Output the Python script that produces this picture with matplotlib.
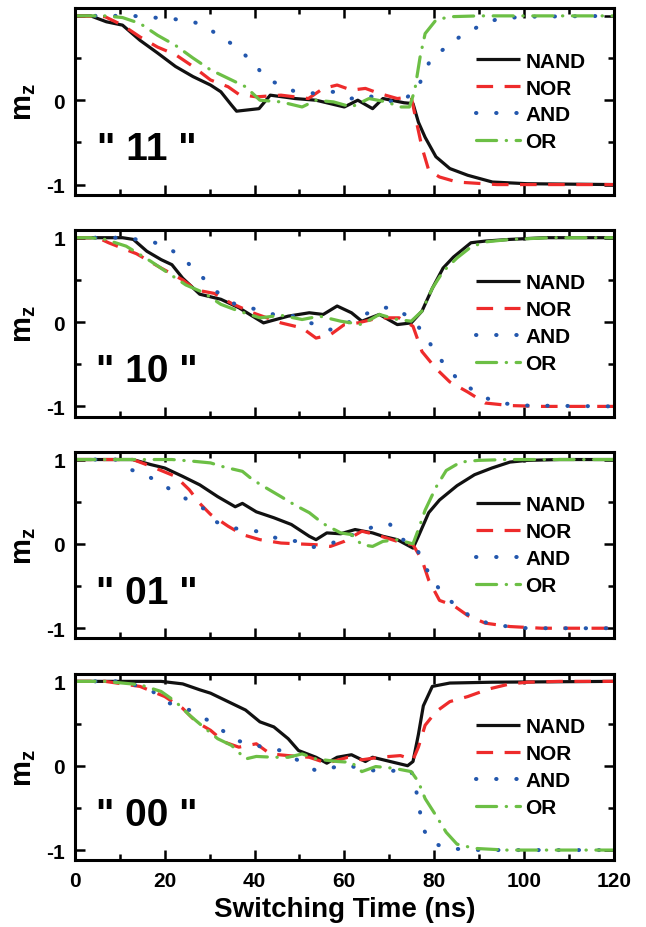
import matplotlib
matplotlib.use("Agg")
import matplotlib.pyplot as plt
from matplotlib.ticker import MultipleLocator, FixedLocator

plt.rcParams['font.family'] = ['Liberation Sans', 'DejaVu Sans']
plt.rcParams['font.weight'] = 'bold'
plt.rcParams['mathtext.fontset'] = 'custom'
plt.rcParams['mathtext.bf'] = 'Liberation Sans:bold'
plt.rcParams['mathtext.rm'] = 'Liberation Sans:bold'

series_names = ["NAND", "NOR", "AND", "OR"]
panel_labels = ['" 11 "', '" 10 "', '" 01 "', '" 00 "']
x_ticks = [0, 20, 40, 60, 80, 100, 120]

# ---- panel "11" ----
p11_nand_x = [0, 3.5, 7, 10.6, 14.5, 18.4, 22.4, 26.3, 30.2, 32.5, 34.9, 36, 41, 43.5, 49, 53.7, 60, 63, 66.3, 68.6, 73.3, 75.3, 76.5, 78, 80.4, 83.5, 87.5, 93, 100.8, 120]
p11_nand_y = [1, 1, 0.93, 0.89, 0.71, 0.56, 0.40, 0.28, 0.18, 0.10, -0.06, -0.13, -0.10, 0.06, 0.02, 0.0, -0.08, 0.0, -0.10, 0.02, -0.03, -0.04, -0.26, -0.44, -0.67, -0.81, -0.89, -0.97, -0.99, -1.0]
p11_nor_x = [0, 6.7, 10.6, 14.5, 18.4, 22.4, 26.3, 30.2, 34.1, 36.5, 40.4, 45.9, 52, 55.3, 58.4, 61.6, 64.7, 67.8, 71.8, 74.9, 76, 77.3, 78.8, 81.2, 85.1, 94, 120]
p11_nor_y = [1, 0.99, 0.89, 0.75, 0.63, 0.54, 0.40, 0.24, 0.16, 0.07, 0.04, 0.06, 0.02, 0.14, 0.18, 0.12, 0.14, 0.08, 0.02, 0.04, -0.24, -0.56, -0.83, -0.91, -0.97, -1.0, -1.0]
p11_and_x = [0, 12.9, 17.6, 22.4, 26.3, 29.4, 31.8, 34.9, 37.3, 39.6, 41.6, 43.9, 46.3, 49, 53.7, 57.6, 61.6, 64.7, 69.4, 72.5, 74.5, 76.5, 77.3, 79.6, 82, 85.1, 88.2, 91.4, 94.5, 100.8, 120]
p11_and_y = [1, 1, 0.98, 0.96, 0.93, 0.87, 0.77, 0.67, 0.56, 0.46, 0.32, 0.22, 0.18, 0.10, 0.08, 0.10, 0.02, 0.06, 0.0, -0.04, 0.06, 0.14, 0.28, 0.52, 0.60, 0.73, 0.83, 0.91, 0.97, 0.99, 1.0]
p11_or_x = [0, 6.7, 10.6, 14.5, 18.4, 22.4, 26.3, 30.2, 34.1, 38, 41.2, 45.9, 50.6, 53.7, 57.6, 61.6, 65.5, 69.4, 72.5, 74.5, 75.7, 76.9, 78, 80.4, 83.5, 90, 120]
p11_or_y = [1, 1, 0.98, 0.91, 0.77, 0.65, 0.50, 0.36, 0.26, 0.16, 0.0, -0.02, -0.08, 0.0, -0.02, -0.08, 0.02, -0.02, -0.08, -0.08, 0.12, 0.52, 0.79, 0.95, 0.99, 1.0, 1.0]

# ---- panel "10" ----
p10_nand_x = [0, 10.6, 13, 16, 19.2, 21.6, 24, 27.8, 32.5, 36.5, 42, 47.5, 52.2, 55.3, 58.4, 61.6, 63.9, 67.8, 71.8, 74.9, 77.3, 79.6, 82, 84.3, 88.2, 91.4, 96.9, 104.7, 120]
p10_nand_y = [1, 1, 0.98, 0.84, 0.74, 0.68, 0.52, 0.33, 0.27, 0.17, -0.01, 0.07, 0.11, 0.09, 0.19, 0.11, 0.01, 0.09, -0.03, -0.01, 0.13, 0.40, 0.64, 0.77, 0.94, 0.96, 0.98, 1.0, 1.0]
p10_nor_x = [0, 5.1, 7.5, 13.7, 19.2, 24, 27, 31, 34.9, 39.6, 45.9, 50.6, 53.7, 56.9, 60, 63, 67.8, 72.2, 75.3, 77.3, 80.4, 83.5, 87.5, 91.4, 96.9, 104, 120]
p10_nor_y = [1, 1, 0.94, 0.81, 0.64, 0.50, 0.38, 0.34, 0.22, 0.11, -0.01, -0.07, -0.19, -0.15, -0.03, -0.01, 0.05, 0.05, -0.05, -0.35, -0.55, -0.71, -0.83, -0.96, -0.99, -1.0, -1.0]
p10_and_x = [0, 10.6, 16.9, 20.8, 24, 28.6, 31, 35.7, 40.4, 44.3, 49, 52.2, 54.5, 56.9, 59.2, 63, 67.8, 71, 74.1, 76.1, 77.3, 78.8, 81.2, 85.1, 88.2, 90.6, 94.5, 100.8, 120]
p10_and_y = [1, 1, 0.96, 0.88, 0.76, 0.52, 0.38, 0.21, 0.15, 0.09, 0.07, -0.01, -0.03, -0.09, -0.05, 0.05, 0.17, 0.17, 0.07, -0.03, -0.11, -0.23, -0.43, -0.67, -0.79, -0.88, -0.96, -0.99, -1.0]
p10_or_x = [0, 3.5, 6.7, 11.4, 16.9, 20.8, 24.7, 28.6, 32.5, 36.5, 41.2, 45.9, 50.6, 54.5, 59.2, 63.9, 67.8, 71.8, 74.9, 77.3, 79.6, 82, 85.1, 88.2, 91.4, 96.9, 106, 120]
p10_or_y = [1, 1, 0.98, 0.90, 0.72, 0.58, 0.44, 0.35, 0.21, 0.13, 0.05, 0.08, 0.03, 0.07, 0.01, -0.03, 0.09, 0.03, 0.01, 0.13, 0.40, 0.60, 0.76, 0.89, 0.95, 0.98, 1.0, 1.0]

# ---- panel "01" ----
p01_nand_x = [0, 12.9, 16.9, 20, 24, 27.8, 31.8, 35.7, 37.3, 40.4, 44.3, 48.2, 52.2, 53.7, 56.1, 59.2, 62.4, 66.3, 68.6, 71.8, 75.3, 76.5, 78.8, 81.2, 85.1, 89, 92.9, 96.9, 100.8, 108, 120]
p01_nand_y = [1, 1, 0.94, 0.90, 0.80, 0.70, 0.56, 0.44, 0.48, 0.38, 0.31, 0.23, 0.09, 0.05, 0.13, 0.12, 0.17, 0.13, 0.09, 0.05, -0.05, 0.09, 0.37, 0.52, 0.69, 0.82, 0.90, 0.97, 0.99, 1.0, 1.0]
p01_nor_x = [0, 12.9, 16.9, 22.4, 25.5, 27.8, 30.2, 34.1, 37.3, 41.2, 45.9, 49.8, 53.7, 56.9, 60, 63.9, 67, 71.8, 75.3, 77.3, 78.8, 81.2, 84.3, 87.5, 91.4, 96.9, 104, 120]
p01_nor_y = [1, 1, 0.92, 0.80, 0.64, 0.48, 0.35, 0.21, 0.11, 0.05, 0.01, 0.0, -0.01, -0.03, 0.03, 0.15, 0.11, 0.03, -0.01, -0.19, -0.43, -0.67, -0.73, -0.85, -0.94, -0.98, -1.0, -1.0]
p01_and_x = [0, 9, 12.5, 18.4, 21.6, 24, 26.3, 28.6, 31, 34.9, 40.4, 45.9, 49.8, 52.9, 56.9, 60, 63.9, 67.8, 70.2, 72.5, 76.1, 77.3, 79.6, 82, 85.9, 89, 92.9, 100.8, 120]
p01_and_y = [1, 1, 0.88, 0.75, 0.63, 0.56, 0.48, 0.42, 0.27, 0.19, 0.15, 0.05, 0.03, -0.04, 0.0, 0.07, 0.15, 0.23, 0.23, 0.07, -0.05, -0.19, -0.43, -0.59, -0.79, -0.88, -0.96, -1.0, -1.0]
p01_or_x = [0, 21.6, 26.3, 30.2, 33.3, 37.3, 39.6, 42.7, 45.9, 49, 52.2, 55.3, 59.2, 61.6, 63.9, 66.3, 68.6, 71.8, 75.3, 76.5, 78, 80.4, 82.7, 85.9, 89.8, 96, 120]
p01_or_y = [1, 1, 0.98, 0.96, 0.91, 0.86, 0.76, 0.66, 0.56, 0.46, 0.37, 0.24, 0.13, 0.11, -0.01, -0.03, 0.03, 0.05, 0.0, 0.17, 0.40, 0.67, 0.87, 0.97, 0.99, 1.0, 1.0]

# ---- panel "00" ----
p00_nand_x = [0, 19.2, 24, 27.8, 30.2, 34.1, 38, 41.2, 44.3, 47.5, 49.8, 53.7, 56.1, 58.4, 61.6, 64.7, 66.3, 70.2, 74.1, 75.3, 76.5, 77.6, 79.6, 83.5, 93, 120]
p00_nand_y = [1, 1, 0.97, 0.90, 0.86, 0.76, 0.66, 0.52, 0.46, 0.32, 0.18, 0.10, 0.03, 0.10, 0.13, 0.05, 0.10, 0.05, 0.0, 0.05, 0.37, 0.71, 0.94, 0.98, 0.99, 1.0]
p00_nor_x = [0, 6.7, 14.5, 20, 24, 27, 30.2, 33.3, 36.5, 40.4, 43.5, 47.5, 52.2, 56.1, 60.8, 63.9, 67.8, 72.5, 75.3, 76.5, 78, 80.4, 83.5, 87.5, 92.2, 96.9, 100.8, 108, 120]
p00_nor_y = [1, 1, 0.94, 0.82, 0.68, 0.52, 0.42, 0.28, 0.22, 0.26, 0.14, 0.12, 0.10, 0.03, 0.10, 0.07, 0.10, 0.12, 0.07, 0.22, 0.48, 0.64, 0.76, 0.82, 0.91, 0.97, 0.99, 1.0, 1.0]
p00_and_x = [0, 10.6, 16.9, 20, 25.5, 28.2, 30.6, 33.3, 34.9, 37.3, 42, 45.9, 49.8, 53.7, 57.6, 60.8, 63, 67, 71, 74.9, 76.1, 76.9, 77.6, 79.2, 82.7, 90, 120]
p00_and_y = [1, 1, 0.90, 0.76, 0.66, 0.58, 0.51, 0.40, 0.32, 0.28, 0.22, 0.18, 0.06, -0.06, -0.02, 0.01, -0.03, -0.06, -0.06, -0.06, -0.32, -0.56, -0.75, -0.90, -0.98, -1.0, -1.0]
p00_or_x = [0, 6.7, 14.5, 19.2, 22.4, 25.5, 28.6, 31.8, 34.9, 38, 40.4, 44.3, 47.5, 50.6, 53.7, 58.4, 61.6, 63.9, 67, 71, 74.9, 76.5, 78, 80.4, 82.7, 85.1, 89, 96, 120]
p00_or_y = [1, 1, 0.96, 0.88, 0.76, 0.60, 0.46, 0.32, 0.24, 0.08, 0.11, 0.10, 0.10, 0.14, 0.08, 0.05, 0.04, -0.07, -0.01, -0.03, -0.07, -0.19, -0.39, -0.59, -0.79, -0.93, -0.98, -1.0, -1.0]

panels = [
    [(p11_nand_x, p11_nand_y), (p11_nor_x, p11_nor_y), (p11_and_x, p11_and_y), (p11_or_x, p11_or_y)],
    [(p10_nand_x, p10_nand_y), (p10_nor_x, p10_nor_y), (p10_and_x, p10_and_y), (p10_or_x, p10_or_y)],
    [(p01_nand_x, p01_nand_y), (p01_nor_x, p01_nor_y), (p01_and_x, p01_and_y), (p01_or_x, p01_or_y)],
    [(p00_nand_x, p00_nand_y), (p00_nor_x, p00_nor_y), (p00_and_x, p00_and_y), (p00_or_x, p00_or_y)],
]

lw = 2.3
styles = [
    dict(color='#111111', linestyle='-', lw=lw, solid_capstyle='butt', solid_joinstyle='round'),
    dict(color='#ee2b2b', linestyle=(0, (5.2, 3.6)), lw=lw, dash_capstyle='butt'),
    dict(color='#2357ad', linestyle=(0, (0.1, 4.9)), lw=2.9, dash_capstyle='round'),
    dict(color='#6cbf45', linestyle=(0, (6.3, 3.0, 0.1, 3.0)), lw=lw, dash_capstyle='round'),
]

fig = plt.figure(figsize=(6.46, 9.28), dpi=100)
fig.subplots_adjust(left=0.116, right=0.950, top=0.990, bottom=0.072, hspace=0.19)
axes = fig.subplots(4, 1, sharex=True)

for i, ax in enumerate(axes):
    for (xs, ys), name, st in zip(panels[i], series_names, styles):
        ax.plot(xs, ys, label=name, **st)
    ax.set_xlim(0, 120)
    ax.set_ylim(-1.12, 1.09)
    ax.xaxis.set_major_locator(FixedLocator(x_ticks))
    ax.xaxis.set_minor_locator(MultipleLocator(10))
    ax.yaxis.set_major_locator(FixedLocator([-1, 0, 1]))
    ax.yaxis.set_minor_locator(FixedLocator([-0.5, 0.5]))
    ax.tick_params(which='both', direction='in', top=True, right=True, width=1.8)
    ax.tick_params(which='major', length=7, labelsize=15)
    ax.tick_params(axis='y', which='major', pad=7)
    ax.tick_params(axis='x', which='major', pad=8)
    ax.tick_params(which='minor', length=4)
    for s in ax.spines.values():
        s.set_linewidth(2.2)
    if i == 0:
        ax.set_yticklabels(['-1', '0', ''])
    else:
        ax.set_yticklabels(['-1', '0', '1'])
    for lab in ax.get_yticklabels() + ax.get_xticklabels():
        lab.set_fontweight('bold')
    ax.set_ylabel(r'$\mathbf{m_z}$', fontsize=21, labelpad=6)
    ax.text(16, -0.58, panel_labels[i], fontsize=28, fontweight='bold',
            ha='center', va='center')
    ax.legend(loc='center left', bbox_to_anchor=(0.745, 0.50), frameon=False,
              handlelength=2.1, handletextpad=0.25, labelspacing=0.38,
              borderpad=0, borderaxespad=0,
              prop={'weight': 'bold', 'size': 15})

axes[-1].set_xlabel('Switching Time (ns)', fontsize=20, fontweight='bold', labelpad=4)

fig.savefig('out.png', dpi=100)
